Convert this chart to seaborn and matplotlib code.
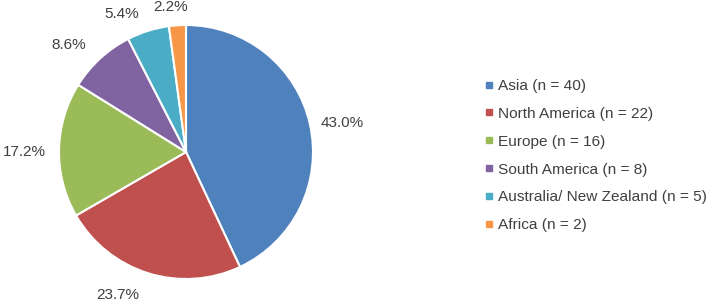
import matplotlib
matplotlib.use("Agg")
import numpy as np
import matplotlib.pyplot as plt
import seaborn as sns
from matplotlib.lines import Line2D

# Data
regions = ["Asia", "North America", "Europe", "South America",
           "Australia/ New Zealand", "Africa"]
counts = [40, 22, 16, 8, 5, 2]
colors = ["#4F81BD", "#C0504D", "#9BBB59", "#8064A2", "#4BACC6", "#F79646"]

# label placement tweaks (distance in radii, angle nudge in degrees)
label_dist = [1.25, 1.25, 1.27, 1.25, 1.20, 1.15]
label_nudge = [-2, -8, 1, 5, 7.5, 2]

sns.set_theme(style="white")
plt.rcParams['font.family'] = ['Liberation Sans', 'DejaVu Sans']
text_color = "#404040"

fig = plt.figure(figsize=(7.08, 3.01), dpi=100)
ax = fig.add_axes([59 / 708, 22 / 301, 254 / 708, 254 / 301])

wedges, texts, autotexts = ax.pie(
    counts, colors=colors, startangle=90, counterclock=False,
    autopct="%1.1f%%", pctdistance=1.2,
    wedgeprops=dict(edgecolor="white", linewidth=1.5),
    textprops=dict(color=text_color, fontsize=11),
)
for w, t, d, nd in zip(wedges, autotexts, label_dist, label_nudge):
    ang = np.deg2rad((w.theta1 + w.theta2) / 2 + nd)
    t.set_position((d * np.cos(ang), d * np.sin(ang)))
    t.set_ha("center")
    t.set_va("center")

ax.set_xlim(-1, 1)
ax.set_ylim(-1, 1)
ax.set_aspect("equal")

handles = [Line2D([0], [0], marker="s", color="w", markerfacecolor=c,
                  markeredgecolor=c, markersize=4) for c in colors]
labels = [f"{r} (n = {n})" for r, n in zip(regions, counts)]
fig.legend(handles, labels, loc="center left", bbox_to_anchor=(470 / 708, 0.483),
           frameon=False, fontsize=11.1, labelcolor=text_color,
           handlelength=0.6, handletextpad=0.3, labelspacing=0.9)

fig.savefig("out.png", dpi=100)
